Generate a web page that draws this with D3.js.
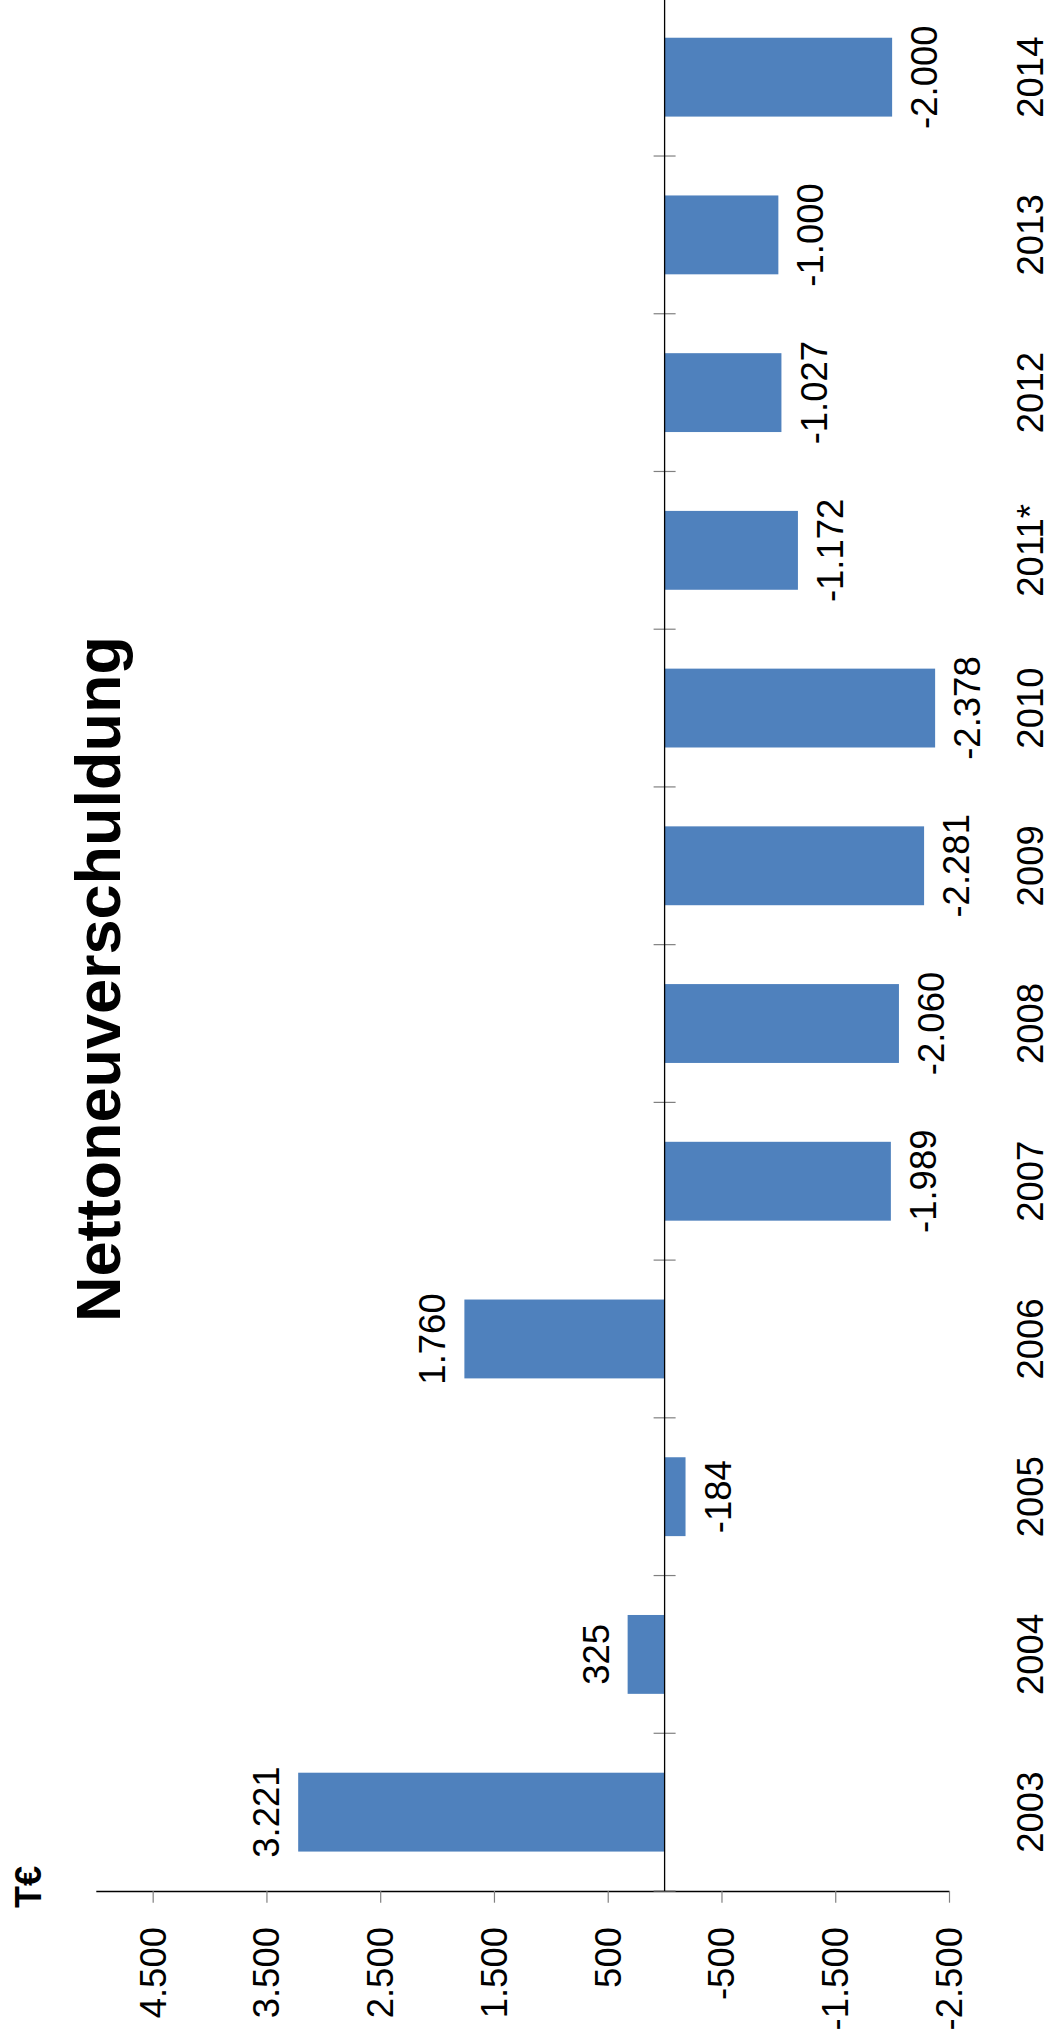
<!DOCTYPE html>
<html><head><meta charset="utf-8">
<script src="https://cdn.jsdelivr.net/npm/d3@7"></script>
<style>html,body{margin:0;padding:0;background:#fff;}svg{display:block;font-family:"Liberation Sans",Arial,sans-serif;}</style>
</head><body>
<svg id="c" width="1051" height="2042"></svg>
<script>
const categories = ["2003","2004","2005","2006","2007","2008","2009","2010","2011*","2012","2013","2014"];
const values = [3221, 325, -184, 1760, -1989, -2060, -2281, -2378, -1172, -1027, -1000, -2000];
const valueTicks = [4500, 3500, 2500, 1500, 500, -500, -1500, -2500];
const title = "Nettoneuverschuldung";
const unitLabel = "T€";

const de = d3.formatLocale({decimal: ",", thousands: ".", grouping: [3], currency: ["", "€"], minus: "-"});
const fmt = de.format(",.0f");

const svg = d3.select("#c");
const FS = 36.5, CAP = 0.716 * FS;
const x = d3.scaleLinear().domain([5000, -2500]).range([95.8, 949]);
const yTop = -1.7, yBot = 1891;
const y = d3.scaleBand().domain(categories).range([yBot, yTop]).paddingInner(0.5).paddingOuter(0.25);
const bound = d3.scaleLinear().domain([0, categories.length]).range([yBot, yTop]);
const data = categories.map((c, i) => ({c, v: values[i]}));

// bars
svg.append("g").selectAll("rect").data(data).join("rect")
  .attr("x", d => Math.min(x(d.v), x(0)))
  .attr("width", d => Math.abs(x(d.v) - x(0)))
  .attr("y", d => y(d.c))
  .attr("height", y.bandwidth())
  .attr("fill", "#4F81BD");

// value axis (bottom)
const ax = svg.append("g").attr("transform", `translate(0,${yBot})`)
  .call(d3.axisBottom(x).tickValues(valueTicks).tickSize(11.7).tickSizeOuter(0).tickFormat(""));
ax.select(".domain").attr("stroke", "#000").attr("stroke-width", 1.3);
ax.selectAll(".tick line").attr("stroke", "#808080").attr("stroke-width", 1.2);

svg.append("g").selectAll("text").data(valueTicks).join("text")
  .attr("transform", d => `translate(${x(d) + 13},1927) rotate(-90)`)
  .attr("text-anchor", "end")
  .attr("font-size", FS)
  .attr("fill", "#000")
  .text(d => fmt(d));

// category axis
svg.append("g").selectAll("line").data(d3.range(categories.length + 1)).join("line")
  .attr("x1", x(0) - 11).attr("x2", x(0) + 11)
  .attr("y1", d => bound(d)).attr("y2", d => bound(d))
  .attr("stroke", "#808080").attr("stroke-width", 1.2);
svg.append("line").attr("x1", x(0)).attr("x2", x(0)).attr("y1", yTop).attr("y2", yBot)
  .attr("stroke", "#000").attr("stroke-width", 1.3);

// category labels
svg.append("g").selectAll("text").data(categories).join("text")
  .attr("transform", d => `translate(1043,${y(d) + y.bandwidth() / 2}) rotate(-90)`)
  .attr("text-anchor", "middle")
  .attr("font-size", FS)
  .attr("fill", "#000")
  .text(d => d);

// value labels
svg.append("g").selectAll("text").data(data).join("text")
  .attr("transform", d => {
    const bx = d.v >= 0 ? x(d.v) - 19 : x(d.v) + 19 + CAP;
    return `translate(${bx},${y(d.c) + y.bandwidth() / 2}) rotate(-90)`;
  })
  .attr("text-anchor", "middle")
  .attr("font-size", FS)
  .attr("fill", "#000")
  .text(d => fmt(d.v));

// title
svg.append("text").attr("transform", "translate(120,979) rotate(-90)")
  .attr("text-anchor", "middle").attr("font-size", 63).attr("font-weight", "bold")
  .attr("fill", "#000").text(title);

// unit label
svg.append("text").attr("transform", "translate(41,1887) rotate(-90)")
  .attr("text-anchor", "middle").attr("font-size", 36).attr("font-weight", "bold")
  .attr("fill", "#000").text(unitLabel);
</script>
</body></html>
